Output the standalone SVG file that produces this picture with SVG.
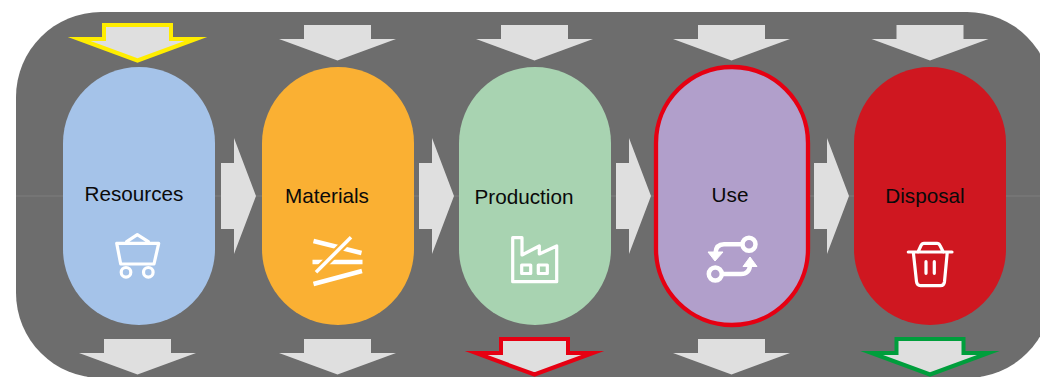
<svg xmlns="http://www.w3.org/2000/svg" width="1040" height="377" viewBox="0 0 1040 377">
<style>
.bg{fill:#6d6d6d}
.arrow{fill:#dfdfdf}
.hl{stroke-width:4;stroke-miterlimit:20;stroke-linejoin:miter}
.label{font-family:"Liberation Sans",Arial,sans-serif;font-size:20.7px;fill:#0a0a0a;text-anchor:middle}
.icon{fill:none;stroke:#fff;stroke-width:3.2;stroke-linecap:round;stroke-linejoin:round}
</style>
<defs>
<path id="down" d="M-33.500 0H33.500V14H58.500L0 35.500L-58.500 14H-33.500Z"/>
<path id="right" d="M0 25H13V0L35 58L13 116V91H0Z"/>
</defs>
<rect class="bg" x="16" y="12" width="1036" height="366" rx="85" ry="85"/>
<g id="connectors">
<line x1="16" y1="196" x2="1040" y2="196" stroke="#7e7e7e" stroke-width="1"/>
<use class="arrow" href="#right" x="221" y="138"/>
<use class="arrow" href="#right" x="419" y="138"/>
<use class="arrow" href="#right" x="616" y="138"/>
<use class="arrow" href="#right" x="814" y="138"/>
<use class="arrow hl" stroke="#ffed00" href="#down" x="137.500" y="25"/>
<use class="arrow" href="#down" x="337.500" y="25"/>
<use class="arrow" href="#down" x="534.500" y="25"/>
<use class="arrow" href="#down" x="731.500" y="25"/>
<use class="arrow" href="#down" x="930" y="25"/>
<use class="arrow" href="#down" x="137.500" y="339"/>
<use class="arrow" href="#down" x="337.500" y="339"/>
<use class="arrow hl" stroke="#e60012" href="#down" x="534.500" y="339"/>
<use class="arrow" href="#down" x="731.500" y="339"/>
<use class="arrow hl" stroke="#009e3c" href="#down" x="930" y="339"/>
</g>
<g id="resources">
<rect x="63" y="67" width="152" height="258" rx="76" fill="#a5c3e9"/>
<text class="label" x="134" y="201">Resources</text>
<path class="icon" d="M116.700 243.300H158.700L154 264H120.700ZM126.700 241.700L137.300 234.700L148.300 241.700"/>
<circle class="icon" cx="126" cy="272.300" r="4.800"/>
<circle class="icon" cx="148.300" cy="272.300" r="4.800"/>
</g>
<g id="materials">
<rect x="262" y="67" width="152" height="258" rx="76" fill="#fab033"/>
<text class="label" x="327" y="203">Materials</text>
<path d="M313.500 241L361.500 253M312.500 262H362.500M313.500 284L362 271" fill="none" stroke="#fff" stroke-width="4.500" stroke-linecap="butt"/>
<path d="M316 272.300L351 237.300" fill="none" stroke="#fab033" stroke-width="8"/>
<path d="M316 272.300L351 237.300" fill="none" stroke="#fff" stroke-width="3.600"/>
</g>
<g id="production">
<rect x="459" y="67" width="152" height="258" rx="76" fill="#a8d3b1"/>
<text class="label" x="524" y="204">Production</text>
<path class="icon" d="M512.700 237.700H522V255L539.300 246V254L556.700 246V281.700H512.700Z"/>
<rect class="icon" x="521.700" y="265" width="9" height="8.500"/>
<rect class="icon" x="538.300" y="265" width="9" height="8.500"/>
</g>
<g id="use">
<rect x="656" y="67" width="152" height="258" rx="76" fill="#b19fcb" stroke="#e60012" stroke-width="4.300"/>
<text class="label" x="730" y="202">Use</text>
<circle cx="749" cy="244.300" r="6.500" fill="none" stroke="#fff" stroke-width="4.500"/>
<circle cx="715.300" cy="274" r="6.500" fill="none" stroke="#fff" stroke-width="4.500"/>
<path d="M743 244.300H724Q716 244.300 715.500 253M721.500 274H741Q749.500 274 750 265" fill="none" stroke="#fff" stroke-width="4.500"/>
<path d="M708 252H723L715 261ZM743 266.500H757L750 257Z" fill="#fff" stroke="#fff" stroke-width="1"/>
</g>
<g id="disposal">
<rect x="854" y="67" width="152" height="258" rx="76" fill="#cf1720"/>
<text class="label" x="925" y="203">Disposal</text>
<path class="icon" d="M908.300 252H952M918 252L921 245.500Q922 243.300 924 243.300H937Q939 243.300 940 245.500L943.300 252M913.300 252L916.500 281.700Q917 285.700 920.500 285.700H940.500Q944 285.700 944.500 281.700L947.300 252M926 261.700V273.300M934.300 261.700V273.300"/>
</g>
</svg>
